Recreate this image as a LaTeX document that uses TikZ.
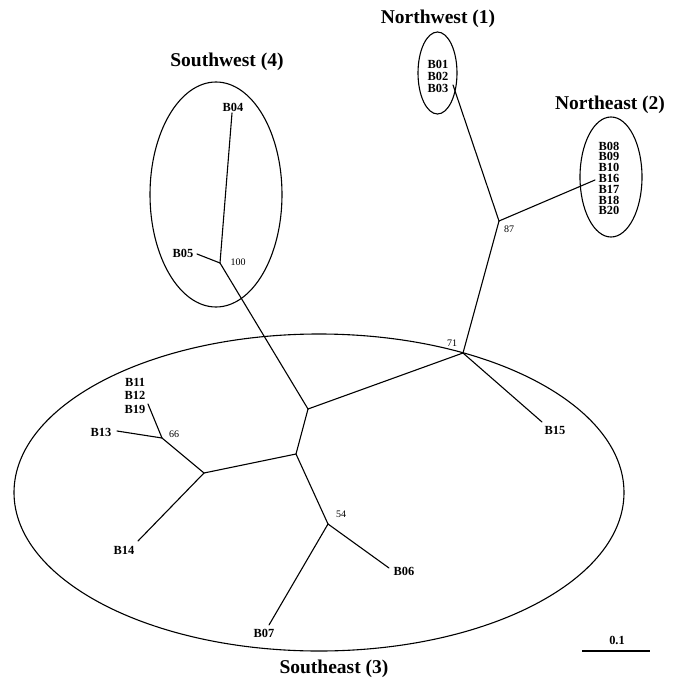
\documentclass[tikz,border=0pt]{standalone}
\usepackage{fontspec}
\setmainfont{Liberation Serif}
\tikzset{
  branch/.style={line width=1.1pt, line cap=round},
  clade/.style={line width=1.1pt},
  leaf/.style={inner sep=0pt, font=\fontsize{12.4}{12.4}\selectfont\bfseries},
  boot/.style={inner sep=0pt, font=\fontsize{10}{10}\selectfont},
  region/.style={inner sep=0pt, font=\fontsize{19.5}{19.5}\selectfont\bfseries},
}
\begin{document}
\begin{tikzpicture}[x=1pt,y=-1pt]
\useasboundingbox (0,0) rectangle (677,682);
% clade ellipses
\draw[clade] (216,194.5) ellipse [x radius=66, y radius=112.5];
\draw[clade] (437.5,73) ellipse [x radius=19.5, y radius=41];
\draw[clade] (611,177) ellipse [x radius=31, y radius=60];
\draw[clade] (319,492.5) ellipse [x radius=305, y radius=158.5];
% region titles
\node[region] (tSW) at (227,62) {Southwest (4)};
\node[region] (tNW) at (438,19) {Northwest (1)};
\node[region] (tNE) at (610,105) {Northeast (2)};
\node[region] (tSE) at (334,669) {Southeast (3)};
% internal nodes
\coordinate (n100) at (220,263);
\coordinate (nA) at (308,409);
\coordinate (n71) at (463,353);
\coordinate (n87) at (499,221);
\coordinate (nB) at (296,454);
\coordinate (nC) at (204,473);
\coordinate (n66) at (162,438);
\coordinate (n54) at (328,524);
% leaf tips
\coordinate (tB04) at (232,113);
\coordinate (tB05) at (197,254);
\coordinate (tB03) at (453,85);
\coordinate (tB16) at (595,180);
\coordinate (tB15) at (542,422);
\coordinate (tB19) at (148,404);
\coordinate (tB13) at (117,431);
\coordinate (tB14) at (138,541);
\coordinate (tB06) at (389,568);
\coordinate (tB07) at (269,625);
% leaf labels
\node[leaf] (B04) at (233,107) {B04};
\node[leaf] (B05) at (183,253) {B05};
\node[leaf] (B01) at (438,64) {B01};
\node[leaf] (B02) at (438,76.5) {B02};
\node[leaf] (B03) at (438,88) {B03};
\node[leaf] (B08) at (609,146) {B08};
\node[leaf] (B09) at (609,156.8) {B09};
\node[leaf] (B10) at (609,167.6) {B10};
\node[leaf] (B16) at (609,178.4) {B16};
\node[leaf] (B17) at (609,189.2) {B17};
\node[leaf] (B18) at (609,200) {B18};
\node[leaf] (B20) at (609,210.8) {B20};
\node[leaf] (B15) at (555,430) {B15};
\node[leaf] (B11) at (135,382) {B11};
\node[leaf] (B12) at (135,395.5) {B12};
\node[leaf] (B19) at (135,409) {B19};
\node[leaf] (B13) at (101,432) {B13};
\node[leaf] (B14) at (124,550) {B14};
\node[leaf] (B06) at (404,571) {B06};
\node[leaf] (B07) at (264,633) {B07};
% bootstrap values
\node[boot] (v100) at (238,262) {100};
\node[boot] (v87) at (509,229) {87};
\node[boot] (v71) at (452,343) {71};
\node[boot] (v66) at (174,434) {66};
\node[boot] (v54) at (341,514) {54};
% branches
\draw[branch] (n100) -- (tB04);
\draw[branch] (n100) -- (tB05);
\draw[branch] (n100) -- (nA);
\draw[branch] (nA) -- (n71);
\draw[branch] (n71) -- (n87);
\draw[branch] (n87) -- (tB03);
\draw[branch] (n87) -- (tB16);
\draw[branch] (n71) -- (tB15);
\draw[branch] (nA) -- (nB);
\draw[branch] (nB) -- (nC);
\draw[branch] (nC) -- (n66);
\draw[branch] (n66) -- (tB19);
\draw[branch] (n66) -- (tB13);
\draw[branch] (nC) -- (tB14);
\draw[branch] (nB) -- (n54);
\draw[branch] (n54) -- (tB06);
\draw[branch] (n54) -- (tB07);
% scale bar
\coordinate (s0) at (582,651);
\coordinate (s1) at (650,651);
\draw[branch, line cap=butt] (s0) -- (s1);
\node[leaf] (sl) at (617,640) {0.1};
\end{tikzpicture}
\end{document}
